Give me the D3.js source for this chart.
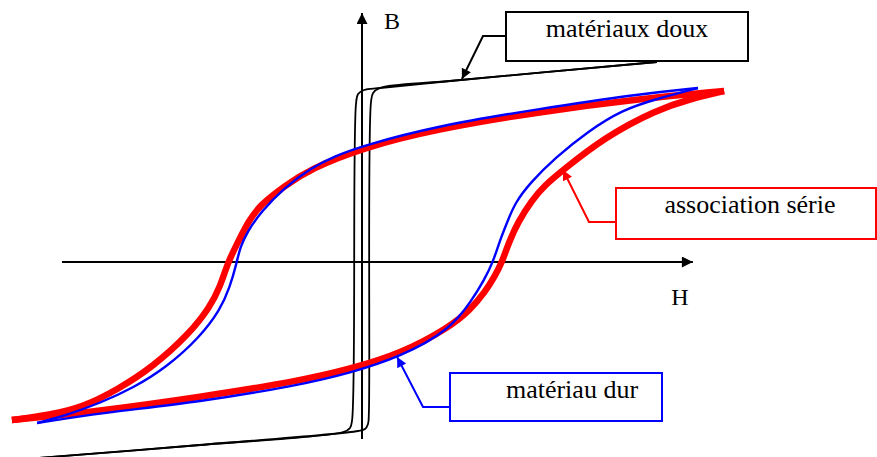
<!DOCTYPE html>
<html>
<head>
<meta charset="utf-8">
<script src="https://cdn.jsdelivr.net/npm/d3@7"></script>
<style>
  html, body { margin: 0; padding: 0; background: #fff; }
  svg { display: block; }
</style>
</head>
<body>
<svg id="chart"></svg>
<script>
"use strict";

// hysteresis loops, points as [H, B]
// (H, B in arbitrary units: 1 H unit = 30 px, 1 B unit = 100 px)

// soft material (black), two branches sharing the saturation lines
let softDown = [
  [9.83, 2.0], [2.93, 1.81], [0.6, 1.74], [0.07, 1.72], [-0.13, 1.68], [-0.2, 1.58],
  [-0.33, -1.58], [-0.4, -1.66], [-0.63, -1.70], [-5.4, -1.83], [-10.8, -1.96]
];
let softUp = [
  [-10.8, -1.96], [-5.4, -1.83], [-0.13, -1.69], [0.1, -1.67], [0.2, -1.62], [0.23, -1.50],
  [0.3, 1.60], [0.37, 1.69], [0.6, 1.74], [2.93, 1.81], [9.83, 2.0]
];

// hard material (blue)
let hardUpper = [
  [11.2, 1.74], [9.23, 1.68], [5.87, 1.53], [2.47, 1.36], [0, 1.16], [-0.9, 1.06],
  [-1.7, 0.94], [-2.6, 0.74], [-3.37, 0.50], [-3.83, 0.30], [-4.07, 0.14], [-4.17, 0],
  [-4.4, -0.25], [-4.73, -0.48], [-5.4, -0.75], [-6.5, -1.05], [-7.63, -1.26],
  [-8.73, -1.41], [-9.83, -1.53], [-10.83, -1.61]
];
let hardLower = [
  [-10.83, -1.61], [-8.73, -1.51], [-5.4, -1.40], [-2.07, -1.23], [-0.4, -1.11],
  [1.27, -0.95], [2.93, -0.68], [3.67, -0.38], [4.07, -0.18], [4.37, 0], [4.6, 0.22],
  [4.87, 0.42], [5.1, 0.59], [5.6, 0.79], [6.43, 1.04], [7.55, 1.31], [8.67, 1.52],
  [9.8, 1.63], [11.2, 1.74]
];

// series association (red)
let seriesUpper = [
  [12.07, 1.71], [9.23, 1.63], [5.87, 1.50], [2.47, 1.33], [0, 1.14], [-1.73, 0.93],
  [-2.58, 0.76], [-3.4, 0.57], [-3.8, 0.40], [-4.13, 0.20], [-4.47, 0],
  [-4.73, -0.25], [-5.07, -0.45], [-5.73, -0.71], [-6.97, -1.05], [-8.17, -1.28],
  [-9.3, -1.45], [-10.4, -1.53], [-11.67, -1.58]
];
let seriesLower = [
  [-11.67, -1.58], [-8.73, -1.49], [-5.4, -1.35], [-2.07, -1.19], [-0.4, -1.07],
  [1.27, -0.92], [2.93, -0.65], [3.6, -0.48], [4.1, -0.30], [4.43, -0.14], [4.67, 0],
  [4.9, 0.20], [5.2, 0.40], [5.67, 0.62], [6.1, 0.77], [6.7, 0.92], [8.1, 1.25],
  [9.8, 1.52], [10.93, 1.63], [12.07, 1.71]
];

// axes extents
let hAxisExtent = [-10, 11.03];
let bAxisExtent = [-1.77, 2.49];
let axisLabels = ["H", "B"];

// callouts: label and the point (H, B) the arrow points to
let calloutLabels = ["matériaux doux", "association série", "matériau dur"];
let calloutTargets = [[3.33, 1.83], [6.7, 0.92], [1.17, -0.95]];

// layout
let width = 877, height = 457;
let serif = "'Liberation Serif', 'Times New Roman', Times, serif";
let xScale = d3.scaleLinear().domain([-12, 12]).range([2, 722]);
let yScale = d3.scaleLinear().domain([-2, 2.5]).range([462, 12]);

let svg = d3.select("#chart")
  .attr("width", width)
  .attr("height", height);

let defs = svg.append("defs");
function addMarker(id, color, len, wid) {
  defs.append("marker")
    .attr("id", id)
    .attr("markerUnits", "userSpaceOnUse")
    .attr("viewBox", "0 0 10 10")
    .attr("refX", 10).attr("refY", 5)
    .attr("markerWidth", len).attr("markerHeight", wid)
    .attr("orient", "auto")
    .append("path")
      .attr("d", "M0,0 L10,5 L0,10 z")
      .attr("fill", color);
}
addMarker("axisArrow", "#000", 21, 11);
addMarker("arrowBlack", "#000", 13, 10);
addMarker("arrowRed", "#f00", 13, 10);
addMarker("arrowBlue", "#00f", 13, 10);

// soft loop keeps its sharp corners, the hard loops get a smoothing spline
let cornerLine = d3.line()
  .x(d => xScale(d[0]))
  .y(d => yScale(d[1]))
  .curve(d3.curveCatmullRom.alpha(0.5));
let smoothLine = d3.line()
  .x(d => xScale(d[0]))
  .y(d => yScale(d[1]))
  .curve(d3.curveBasis);

// axes
svg.append("line")
  .attr("x1", xScale(hAxisExtent[0])).attr("x2", xScale(hAxisExtent[1]))
  .attr("y1", yScale(0)).attr("y2", yScale(0))
  .attr("stroke", "#000").attr("stroke-width", 2)
  .attr("marker-end", "url(#axisArrow)");
svg.append("line")
  .attr("x1", xScale(0)).attr("x2", xScale(0))
  .attr("y1", yScale(bAxisExtent[0])).attr("y2", yScale(bAxisExtent[1]))
  .attr("stroke", "#000").attr("stroke-width", 2)
  .attr("marker-end", "url(#axisArrow)");

svg.append("text")
  .attr("x", xScale(hAxisExtent[1]) - 13).attr("y", yScale(0) + 43)
  .attr("text-anchor", "middle")
  .attr("font-family", serif)
  .attr("font-size", 24)
  .text(axisLabels[0]);
svg.append("text")
  .attr("x", xScale(0) + 30).attr("y", yScale(bAxisExtent[1]) + 16)
  .attr("text-anchor", "middle")
  .attr("font-family", serif)
  .attr("font-size", 24)
  .text(axisLabels[1]);

// loops
let loops = [
  {data: [softDown, softUp], color: "#000", w: 1.8, gen: cornerLine},
  {data: [seriesUpper, seriesLower], color: "#f00", w: 6.5, gen: smoothLine},
  {data: [hardUpper, hardLower], color: "#00f", w: 2.4, gen: smoothLine}
];
loops.forEach(l => {
  svg.append("g").selectAll("path")
    .data(l.data)
    .join("path")
      .attr("d", l.gen)
      .attr("fill", "none")
      .attr("stroke", l.color)
      .attr("stroke-width", l.w)
      .attr("stroke-linejoin", "round")
      .attr("stroke-linecap", "butt");
});

// callout boxes
let boxes = [
  {x0: 506, x1: 748, y0: 12, y1: 61, tx: 627, elbowX: 483, leadY: 36, color: "#000", marker: "arrowBlack"},
  {x0: 616, x1: 876, y0: 188, y1: 239, tx: 750, elbowX: 589, leadY: 222, color: "#f00", marker: "arrowRed"},
  {x0: 450, x1: 662, y0: 373, y1: 421, tx: 572, elbowX: 423, leadY: 407, color: "#00f", marker: "arrowBlue"}
];
boxes.forEach((b, i) => {
  let g = svg.append("g");
  g.append("rect")
    .attr("x", b.x0).attr("y", b.y0)
    .attr("width", b.x1 - b.x0).attr("height", b.y1 - b.y0)
    .attr("fill", "#fff")
    .attr("stroke", b.color).attr("stroke-width", 2);
  g.append("text")
    .attr("x", b.tx).attr("y", b.y0 + 25)
    .attr("text-anchor", "middle")
    .attr("font-family", serif)
    .attr("font-size", 26)
    .attr("fill", "#000")
    .text(calloutLabels[i]);
  let t = calloutTargets[i];
  g.append("path")
    .attr("d", `M${b.x0},${b.leadY} L${b.elbowX},${b.leadY} L${xScale(t[0])},${yScale(t[1])}`)
    .attr("fill", "none")
    .attr("stroke", b.color).attr("stroke-width", 2)
    .attr("marker-end", `url(#${b.marker})`);
});
</script>
</body>
</html>
